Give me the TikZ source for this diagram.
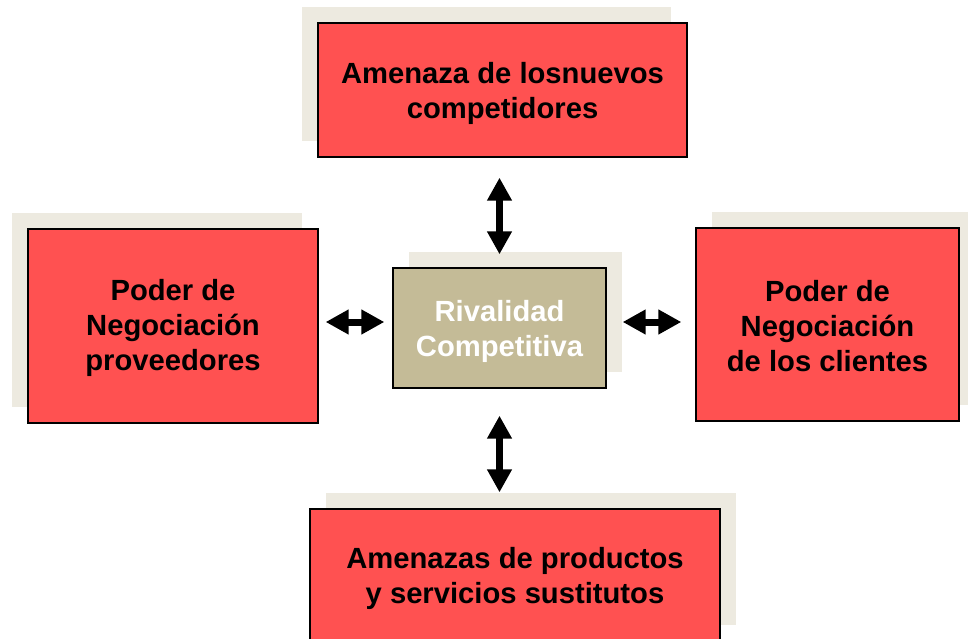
\documentclass[tikz,border=0pt]{standalone}
\usepackage{fontspec}
\setmainfont{Liberation Sans}
\usetikzlibrary{arrows.meta,calc}
\definecolor{boxred}{HTML}{FF5151}
\definecolor{shadecol}{HTML}{EDEAE0}
\definecolor{tancol}{HTML}{C4BB97}
\begin{document}
\begin{tikzpicture}[x=1pt,y=-1pt,
  force/.style={draw=black, line width=1.3pt, fill=boxred, inner sep=0pt},
  rival/.style={force, fill=tancol},
  forcetext/.style={inner sep=0pt, align=center, text=black,
    font=\fontsize{29.2}{35}\selectfont\bfseries},
  rivaltext/.style={forcetext, text=white},
  shadowbox/.style={fill=shadecol, inner sep=0pt},
  biarrow/.style={line width=7pt,
    {Triangle[width=23.5pt,length=23pt]}-{Triangle[width=23.5pt,length=23pt]}}]
\useasboundingbox (0,0) rectangle (968,639);
\clip (0,0) rectangle (968,639);
% shadows
\node[shadowbox, minimum width=369pt, minimum height=134pt] (Ts) at (486.5,74) {};
\node[shadowbox, minimum width=290pt, minimum height=194pt] (Ls) at (157,310) {};
\node[shadowbox, minimum width=213pt, minimum height=120pt] (Cs) at (515.5,312) {};
\node[shadowbox, minimum width=263pt, minimum height=193pt] (Rs) at (843.5,308.5) {};
\node[shadowbox, minimum width=410pt, minimum height=132pt] (Bs) at (531,559) {};
% boxes
\node[force, minimum width=369pt, minimum height=134pt] (T) at (502.5,90) {};
\node[force, minimum width=290pt, minimum height=194pt] (L) at (173,326) {};
\node[rival, minimum width=213pt, minimum height=120pt] (C) at (499.5,328) {};
\node[force, minimum width=263pt, minimum height=193pt] (R) at (827.5,324.5) {};
\node[force, minimum width=410pt, minimum height=132pt] (B) at (515,575) {};
% texts
\node[forcetext] (Tt) at ([yshift=-3pt]T.center) {Amenaza de losnuevos\\competidores};
\node[forcetext] (Lt) at ([yshift=-1.5pt]L.center) {Poder de\\Negociación\\proveedores};
\node[rivaltext] (Ct) at ([yshift=-3pt]C.center) {Rivalidad\\Competitiva};
\node[forcetext] (Rt) at ([yshift=-1.5pt]R.center) {Poder de\\Negociación\\de los clientes};
\node[forcetext] (Bt) at ([yshift=-3pt]B.center) {Amenazas de productos\\y servicios sustitutos};
% arrows
\coordinate (hy) at (0,322);
\draw[biarrow, shorten <=20pt, shorten >=13pt] (T.south -| C.north) -- (C.north);
\draw[biarrow, shorten <=27pt, shorten >=16pt] (C.south) -- (B.north -| C.south);
\draw[biarrow, shorten <=7pt, shorten >=8pt] (L.east |- hy) -- (C.west |- hy);
\draw[biarrow, shorten <=16pt, shorten >=14pt] (C.east |- hy) -- (R.west |- hy);
\end{tikzpicture}
\end{document}
